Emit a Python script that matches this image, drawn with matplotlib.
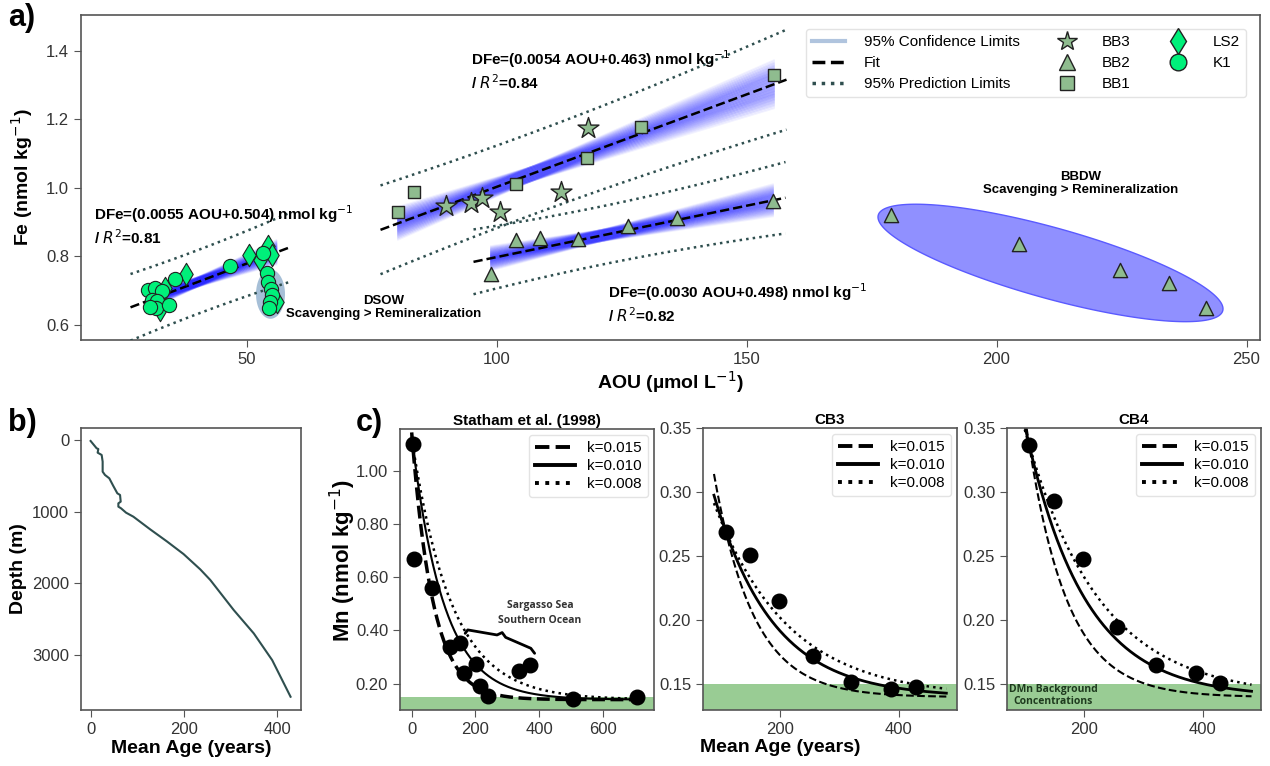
import numpy as np
import matplotlib
matplotlib.use('Agg')
import matplotlib.pyplot as plt
from matplotlib.lines import Line2D
from matplotlib.patches import Polygon
from matplotlib.ticker import FormatStrFormatter

plt.rcParams['font.family'] = ['Liberation Sans', 'DejaVu Sans']
plt.rcParams['axes.edgecolor'] = '#555555'
plt.rcParams['axes.linewidth'] = 1.2
plt.rcParams['xtick.color'] = '#555555'
plt.rcParams['ytick.color'] = '#555555'
plt.rcParams['xtick.labelcolor'] = '#333333'
plt.rcParams['ytick.labelcolor'] = '#333333'
plt.rcParams['xtick.labelsize'] = 12
plt.rcParams['ytick.labelsize'] = 12
plt.rcParams['xtick.major.size'] = 5
plt.rcParams['ytick.major.size'] = 5

# ---- panel a data (AOU, Fe) ----
bb1_aou = [80.3, 83.5, 103.9, 118.1, 128.9, 155.5]
bb1_fe = [0.930, 0.988, 1.012, 1.088, 1.178, 1.330]
bb3_aou = [89.9, 94.9, 97.0, 100.7, 112.9, 118.2]
bb3_fe = [0.947, 0.957, 0.970, 0.931, 0.989, 1.174]
bb2_aou = [98.9, 103.8, 108.7, 116.3, 126.2, 136.1, 155.3]
bb2_fe = [0.748, 0.848, 0.855, 0.852, 0.889, 0.911, 0.962]
bbdw_aou = [178.9, 204.5, 224.7, 234.5, 241.9]
bbdw_fe = [0.920, 0.836, 0.760, 0.722, 0.649]
k1_aou = [30.3, 31.7, 33.0, 31.0, 32.1, 31.9, 34.5, 30.7, 35.7, 46.7, 53.2]
k1_fe = [0.702, 0.707, 0.700, 0.673, 0.671, 0.649, 0.658, 0.653, 0.733, 0.772, 0.809]
k1_dsow_aou = [54.1, 54.3, 54.8, 55.0, 54.7, 54.5]
k1_dsow_fe = [0.753, 0.726, 0.704, 0.688, 0.668, 0.649]
ls2_aou = [37.8, 50.5, 54.2, 55.1, 52.7, 33.7, 32.7, 56.0]
ls2_fe = [0.748, 0.804, 0.831, 0.804, 0.790, 0.707, 0.644, 0.668]

# fits: slope, intercept as reported
fit_slope = [0.0055, 0.0054, 0.0030]
fit_icpt = [0.504, 0.463, 0.498]
fit_text = ['DFe=(0.0055 AOU+0.504) nmol kg$^{-1}$\n/ $R^2$=0.81',
            'DFe=(0.0054 AOU+0.463) nmol kg$^{-1}$\n/ $R^2$=0.84',
            'DFe=(0.0030 AOU+0.498) nmol kg$^{-1}$\n/ $R^2$=0.82']

# ---- panel b data ----
age_b = [0, 12.9, 16.5, 15.1, 23.7, 25.8, 25.8, 30.8, 40.1, 48.7, 57.3, 63.1, 64.5, 59.5,
         59.5, 65.2, 76, 91.7, 127.6, 163.4, 199.2, 235.1, 256.6, 306.8, 349.8, 389.2, 428.6]
depth_b = [14, 116, 126, 177, 209, 302, 442, 488, 535, 642, 744, 767, 860, 884,
           930, 953, 1014, 1070, 1246, 1414, 1591, 1805, 1953, 2372, 2698, 3070, 3581]

# ---- panel c data ----
c1_age = [3, 8, 63, 121, 153, 163, 202, 216, 239, 337, 372, 507, 707]
c1_mn = [1.10, 0.669, 0.561, 0.339, 0.352, 0.241, 0.273, 0.192, 0.153, 0.249, 0.270, 0.141, 0.151]
c2_age = [108, 148, 198, 255, 320, 386, 428]
c2_mn = [0.269, 0.251, 0.215, 0.172, 0.152, 0.1465, 0.148]
c3_age = [107, 149, 198, 255, 321, 388, 428]
c3_mn = [0.3365, 0.293, 0.248, 0.195, 0.165, 0.1586, 0.1508]
k_values = [0.015, 0.010, 0.008]
k_labels = ['k=0.015', 'k=0.010', 'k=0.008']
mn_background = 0.14

fig = plt.figure(figsize=(12.7, 7.66), dpi=100)
ax_a = fig.add_axes([81 / 1270, 1 - 340 / 766, 1179 / 1270, 325 / 766])
ax_b = fig.add_axes([81 / 1270, 1 - 710 / 766, 220 / 1270, 282 / 766])
ax_c1 = fig.add_axes([400 / 1270, 1 - 710 / 766, 254 / 1270, 281 / 766])
ax_c2 = fig.add_axes([703 / 1270, 1 - 710 / 766, 254 / 1270, 282 / 766])
ax_c3 = fig.add_axes([1007 / 1270, 1 - 710 / 766, 254 / 1270, 282 / 766])

green = '#8fbc8f'
spring = '#00f07a'


def draw_fit(ax, x, y, slope, icpt):
    x = np.asarray(x)
    y = np.asarray(y)
    n = len(x)
    xm = x.mean()
    sxx = ((x - xm) ** 2).sum()
    res = y - (slope * x + icpt)
    dof = n - 2
    s = np.sqrt((res ** 2).sum() / dof)
    t = 1.96 + 2.4 / dof + 3.0 / dof ** 2
    # confidence fan
    xs = np.linspace(x.min(), x.max(), 40)
    grid = np.linspace(-1.4, 1.4, 13)
    for u in grid:
        for v in grid:
            ax.plot(xs, slope * xs + icpt + u * s / np.sqrt(n) + v * s / np.sqrt(sxx) * (xs - xm),
                    color='blue', alpha=0.05, lw=1.2, zorder=1)
    xf = np.linspace(x.min() - 3.5, x.max() + 2.5, 60)
    yf = slope * xf + icpt
    ax.plot(xf, yf, '--', color='black', lw=1.8, zorder=3)
    hw = t * s * np.sqrt(1 + 1 / n + (xf - xm) ** 2 / sxx)
    ax.plot(xf, yf + hw, ':', color='#2f4f4f', lw=1.8, zorder=3)
    ax.plot(xf, yf - hw, ':', color='#2f4f4f', lw=1.8, zorder=3)


def ellipse(ax, cx, cy, ux, uy, vy, **kw):
    t = np.linspace(0, 2 * np.pi, 200)
    pts = np.column_stack([cx + ux * np.cos(t), cy + uy * np.cos(t) + vy * np.sin(t)])
    ax.add_patch(Polygon(pts, closed=True, **kw))


# ---------- panel a ----------
ax = ax_a
ellipse(ax, 54.8, 0.69, 2.9, 0.0, 0.072, facecolor='#4f81b0', alpha=0.5, edgecolor='none', zorder=0)
ellipse(ax, 210.8, 0.781, 34.5, -0.134, 0.107, facecolor='#9090ff', edgecolor='#5a5aff', lw=1, zorder=0)

draw_fit(ax, k1_aou + ls2_aou, k1_fe + ls2_fe, fit_slope[0], fit_icpt[0])
draw_fit(ax, bb1_aou + bb3_aou, bb1_fe + bb3_fe, fit_slope[1], fit_icpt[1])
draw_fit(ax, bb2_aou, bb2_fe, fit_slope[2], fit_icpt[2])

ax.scatter(ls2_aou, ls2_fe, marker='d', s=130, facecolor=spring, edgecolor='#222222', lw=0.8, zorder=5)
ax.scatter(k1_aou + k1_dsow_aou, k1_fe + k1_dsow_fe, marker='o', s=105, facecolor=spring,
           edgecolor='#222222', lw=0.8, zorder=5)
ax.scatter(bb1_aou, bb1_fe, marker='s', s=85, facecolor=green, edgecolor='#222222', lw=1, zorder=5)
ax.scatter(bb3_aou, bb3_fe, marker='*', s=250, facecolor=green, edgecolor='#222222', lw=1, zorder=5)
ax.scatter(bb2_aou + bbdw_aou, bb2_fe + bbdw_fe, marker='^', s=105, facecolor=green,
           edgecolor='#222222', lw=1, zorder=5)

ax.text(19.5, 0.955, fit_text[0], fontsize=11, fontweight='bold', va='top', ha='left')
ax.text(94.8, 1.408, fit_text[1], fontsize=11, fontweight='bold', va='top', ha='left')
ax.text(122.3, 0.728, fit_text[2], fontsize=11, fontweight='bold', va='top', ha='left')
ax.text(77.5, 0.688, 'DSOW\nScavenging > Remineralization', fontsize=9.5, fontweight='bold',
        ha='center', va='top', linespacing=1.1)
ax.text(216.8, 1.05, 'BBDW\nScavenging > Remineralization', fontsize=9.5, fontweight='bold',
        ha='center', va='top', linespacing=1.1)

ax.set_xlim(16.9, 252.7)
ax.set_ylim(0.556, 1.505)
ax.set_xticks([50, 100, 150, 200, 250])
ax.set_yticks([0.6, 0.8, 1.0, 1.2, 1.4])
ax.yaxis.set_major_formatter(FormatStrFormatter('%.1f'))
ax.set_xlabel('AOU (µmol L$^{-1}$)', fontsize=14, fontweight='bold', labelpad=2)
ax.set_ylabel('Fe (nmol kg$^{-1}$)', fontsize=14, fontweight='bold', labelpad=8)

handles = [Line2D([], [], color='#b0c4de', lw=3),
           Line2D([], [], color='black', ls='--', lw=2.5),
           Line2D([], [], color='#2f4f4f', ls=':', lw=2.5),
           Line2D([], [], marker='*', ls='none', ms=15, mfc=green, mec='#222222'),
           Line2D([], [], marker='^', ls='none', ms=11, mfc=green, mec='#222222'),
           Line2D([], [], marker='s', ls='none', ms=10, mfc=green, mec='#222222'),
           Line2D([], [], marker='d', ls='none', ms=13, mfc=spring, mec='#222222'),
           Line2D([], [], marker='o', ls='none', ms=12, mfc=spring, mec='#222222')]
labels = ['95% Confidence Limits', 'Fit', '95% Prediction Limits', 'BB3', 'BB2', 'BB1', 'LS2', 'K1']
ax.legend(handles, labels, ncol=3, loc='upper right', fontsize=11, frameon=True,
          edgecolor='#dddddd', handlelength=2.2, handletextpad=1.2, columnspacing=2.0,
          labelspacing=0.45, borderaxespad=0.5, bbox_to_anchor=(0.995, 0.98))

# ---------- panel b ----------
ax = ax_b
ax.plot(age_b, depth_b, color='#2f4f4f', lw=1.5)
ax.set_xlim(-20.6, 451)
ax.set_ylim(3766, -167)
ax.set_xticks([0, 200, 400])
ax.set_yticks([0, 1000, 2000, 3000])
ax.set_xlabel('Mean Age (years)', fontsize=14, fontweight='bold', labelpad=2)
ax.set_ylabel('Depth (m)', fontsize=14, fontweight='bold', labelpad=4)


# ---------- panel c ----------
def mn_panel(ax, age, mn, t_end, t_start, lws):
    t0 = age[0]
    c0 = mn[0]
    ax.axhspan(0, 0.15, color='#99cc94', zorder=0, lw=0)
    tt = np.linspace(t_start, t_end, 300)
    styles = ['--', '-', ':']
    for k, ls, lw in zip(k_values, styles, lws):
        ax.plot(tt, mn_background + (c0 - mn_background) * np.exp(-k * (tt - t0)),
                ls=ls, color='black', lw=lw, zorder=2)
    ax.scatter(age, mn, s=110, color='black', zorder=4)
    hs = [Line2D([], [], color='black', ls=s, lw=2.8) for s in styles]
    ax.legend(hs, k_labels, loc='upper right', fontsize=11, frameon=True, edgecolor='#dddddd',
              handlelength=2.6, labelspacing=0.25, borderaxespad=0.4)


mn_panel(ax_c1, c1_age, c1_mn, 720, 0, [2.5, 1.5, 1.8])
ax_c1.set_xlim(-36.7, 760.8)
ax_c1.set_ylim(0.101, 1.157)
ax_c1.set_xticks([0, 200, 400, 600])
ax_c1.set_yticks([0.2, 0.4, 0.6, 0.8, 1.0])
ax_c1.yaxis.set_major_formatter(FormatStrFormatter('%.2f'))
ax_c1.set_title('Statham et al. (1998)', fontsize=11, fontweight='bold', pad=3)

brace_x = [168, 176, 268, 284, 295, 374, 386]
brace_y = [0.389, 0.402, 0.383, 0.392, 0.374, 0.333, 0.314]
ax_c1.plot(brace_x, brace_y, color='black', lw=2, zorder=3, solid_capstyle='round')
ax_c1.text(403, 0.465, 'Sargasso Sea\nSouthern Ocean', fontsize=7.5, fontweight='bold',
           family=['Open Sans', 'DejaVu Sans'], color='#333333', ha='center', va='center',
           linespacing=1.5)

mn_panel(ax_c2, c2_age, c2_mn, 480, 88, [1.5, 2, 1.8])
mn_panel(ax_c3, c3_age, c3_mn, 482, 88, [1.5, 2, 1.8])
for ax, title in [(ax_c2, 'CB3'), (ax_c3, 'CB4')]:
    ax.set_xlim(69.5, 498)
    ax.set_ylim(0.13, 0.35)
    ax.set_xticks([200, 400])
    ax.set_yticks([0.15, 0.20, 0.25, 0.30, 0.35])
    ax.yaxis.set_major_formatter(FormatStrFormatter('%.2f'))
    ax.set_title(title, fontsize=11, fontweight='bold', pad=3)

ax_c3.text(147.5, 0.1415, 'DMn Background\nConcentrations', fontsize=7.5, fontweight='bold',
           family=['Open Sans', 'DejaVu Sans'], color='#1e3a1e', ha='center', va='center',
           linespacing=1.1)

fig.text(343 / 1270, 1 - 560 / 766, 'Mn (nmol kg$^{-1}$)', fontsize=16, fontweight='bold',
         rotation=90, ha='center', va='center')
fig.text(780 / 1270, 1 - 747 / 766, 'Mean Age (years)', fontsize=14, fontweight='bold',
         ha='center', va='center')

fig.text(8 / 1270, 1 - 3 / 766, 'a)', fontsize=22, fontweight='bold', va='top')
fig.text(8 / 1270, 1 - 408 / 766, 'b)', fontsize=22, fontweight='bold', va='top')
fig.text(356 / 1270, 1 - 408 / 766, 'c)', fontsize=22, fontweight='bold', va='top')

fig.savefig('out.png', dpi=100)
